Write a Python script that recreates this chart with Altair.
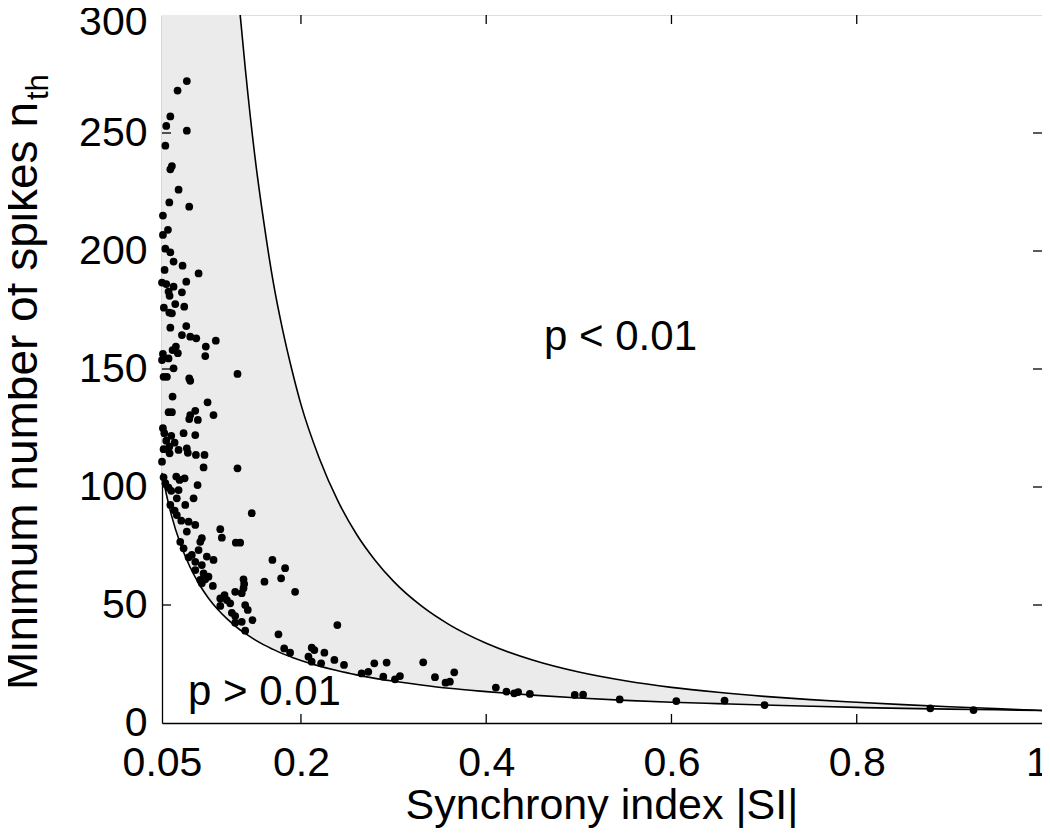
import altair as alt
import pandas as pd

# ---- data ----
SI_PTS = [0.0768, 0.0668, 0.059, 0.0546, 0.0768, 0.0536, 0.0607, 0.059, 0.0679, 0.0579,
          0.0794, 0.051, 0.0564, 0.051, 0.0536, 0.059, 0.0625, 0.0722, 0.0895, 0.0528,
          0.0762, 0.05, 0.0546, 0.0625, 0.0715, 0.0582, 0.0571, 0.0643, 0.074, 0.052,
          0.0579, 0.0607, 0.059, 0.0762, 0.0715, 0.0805, 0.087, 0.1081, 0.0973, 0.065,
          0.0614, 0.0671, 0.051, 0.0967, 0.05, 0.0571, 0.0625, 0.1315, 0.0517, 0.0553,
          0.0794, 0.0805, 0.0614, 0.0992, 0.0571, 0.0607, 0.0859, 0.1056, 0.0805, 0.0794,
          0.0887, 0.051, 0.0525, 0.0733, 0.06, 0.0859, 0.0546, 0.0636, 0.0517, 0.0579,
          0.0679, 0.0768, 0.0582, 0.0779, 0.0866, 0.0959, 0.05, 0.0949, 0.1315, 0.0517,
          0.0654, 0.0744, 0.0536, 0.069, 0.0571, 0.0884, 0.0679, 0.06, 0.0841, 0.066,
          0.0751, 0.059, 0.0636, 0.066, 0.1469, 0.0708, 0.0787, 0.0859, 0.1129, 0.0768,
          0.1146, 0.093, 0.0913, 0.0697, 0.1297, 0.1344, 0.0733, 0.0895, 0.0822, 0.0787,
          0.0984, 0.1056, 0.1692, 0.0859, 0.093, 0.1829, 0.0859, 0.0949, 0.1002, 0.1786,
          0.138, 0.0913, 0.0967, 0.1606, 0.1387, 0.093, 0.1049, 0.138, 0.1937, 0.1361,
          0.129, 0.1175, 0.1129, 0.12, 0.1236, 0.1398, 0.1129, 0.1426, 0.1254, 0.129,
          0.1477, 0.129, 0.1361, 0.2393, 0.1398, 0.1757, 0.1819, 0.1883, 0.2116, 0.2145,
          0.2081, 0.2253, 0.2361, 0.2116, 0.2218, 0.2465, 0.2792, 0.2925, 0.2655, 0.2727,
          0.2889, 0.3015, 0.3069, 0.332, 0.3447, 0.3561, 0.3608, 0.3655, 0.4104, 0.4219,
          0.4302, 0.4345, 0.4471, 0.4956, 0.5046, 0.5441, 0.6052, 0.6573, 0.7005, 0.8794,
          0.9261]
N_PTS = [272, 268, 257, 253, 251, 244.6, 236, 234.6, 226, 220.6,
         218.8, 215, 209, 206.8, 201, 199.4, 195.5, 193.8, 190.5, 192,
         187, 186.6, 186, 184.9, 182.5, 181, 182.8, 177.5, 176.4, 176,
         173.9, 173.6, 167.5, 168.2, 164.4, 163.7, 163, 162, 159.5, 159.5,
         158, 156.7, 156.4, 155.5, 153.8, 154.5, 150.3, 147.9, 146.7, 146.7,
         146, 145, 138.3, 135.9, 131.7, 131.7, 132.3, 130.5, 130.5, 128.8,
         128.4, 124.9, 122.8, 122.8, 121.7, 122, 119.6, 118.8, 116, 117.1,
         115.7, 116.4, 114.3, 114.5, 113.6, 113.6, 110.7, 108.3, 107.9, 104.1,
         104.4, 103.7, 101.6, 103, 99.7, 100.8, 98.7, 98.4, 95.2, 95.2,
         92.4, 92.4, 90, 88.1, 88.9, 85.7, 85.3, 83.9, 82.1, 81.1,
         78.5, 78.3, 76.8, 76.8, 76.4, 76.4, 74, 73.3, 71.2, 70.2,
         70.5, 69.1, 69.1, 68.3, 66.9, 65.6, 64.8, 63.4, 62, 61.3,
         60.9, 60.6, 60.9, 59.9, 58.9, 59.2, 58.1, 57.1, 55.6, 55,
         55.6, 54.2, 52.8, 52.1, 50.7, 50, 49.6, 47.9, 46.7, 45.3,
         43.6, 42.5, 42.9, 41.5, 39.1, 37.6, 31.6, 29.8, 31.9, 30.9,
         28.1, 29.8, 26.7, 26, 25.3, 24.6, 25.3, 25.6, 21, 21.7,
         19.6, 18.5, 19.9, 25.7, 19.4, 17.1, 17.5, 21.5, 15, 13.3,
         12.6, 13.1, 12.3, 11.9, 12, 10, 9.3, 9.5, 7.6, 6.2,
         5.5]

# threshold curves
SI_CURVE = [0.05, 0.055, 0.06, 0.07, 0.08, 0.09, 0.1, 0.11, 0.12, 0.1344, 0.14, 0.15,
            0.16, 0.17, 0.18, 0.19, 0.2, 0.22, 0.24, 0.26, 0.28, 0.3, 0.33, 0.36, 0.4,
            0.45, 0.5, 0.55, 0.6, 0.65, 0.7, 0.75, 0.8, 0.85, 0.9, 0.95, 1.0]
N_LOWER = [106, 96.4, 88.3, 75.7, 66.3, 58.9, 53, 48.2, 44.2, 39.4, 37.9, 35.3,
           33.1, 31.2, 29.4, 27.9, 26.5, 24.1, 22.1, 20.4, 18.9, 17.7, 16.1, 14.7, 13.3,
           11.8, 10.6, 9.6, 8.8, 8.2, 7.6, 7.1, 6.6, 6.2, 5.9, 5.6, 5.3]
N_UPPER = [300, 300, 300, 300, 300, 300, 300, 300, 300, 300, 277, 241,
           212, 187, 167, 150, 135, 112, 94, 80, 69, 60, 49.6, 41.7, 33.8,
           26.7, 21.6, 17.9, 15.1, 13.0, 11.3, 9.9, 8.8, 7.8, 6.9, 6.1, 5.3]

X_TICKS = [0.05, 0.2, 0.4, 0.6, 0.8, 1.0]
Y_TICKS = [0, 50, 100, 150, 200, 250, 300]

W, H = 880, 708
FONT = "Liberation Sans"
FS = 41
TICK = 9

pts = pd.DataFrame({"si": SI_PTS, "n": N_PTS})
curves = pd.DataFrame({"si": SI_CURVE, "lo": N_LOWER, "up": N_UPPER})
upper_line = curves[curves["si"] >= 0.1344]

xs = alt.Scale(domain=[0.05, 1], nice=False, zero=False)
ys = alt.Scale(domain=[0, 300], nice=False, zero=True)

x_axis = alt.Axis(values=X_TICKS, format="~g", title=None, grid=False, ticks=False,
                  tickSize=0, labelFont=FONT, labelFontSize=FS, labelColor="black",
                  labelPadding=20, domainColor="black", domainWidth=1.3,
                  labelFlush=False, labelOverlap=False,
                  labelOffset={"condition": {"test": "datum.value == 1", "value": -5},
                               "value": 0})
y_axis = alt.Axis(values=Y_TICKS, title=None, grid=False, ticks=False, tickSize=0,
                  labelFont=FONT, labelFontSize=FS, labelColor="black",
                  labelPadding=15, domainColor="black", domainWidth=1.3,
                  labelFlush=False, labelOverlap=False,
                  labelOffset={"condition": {"test": "datum.value == 300", "value": 7},
                               "value": 0})


def X(field):
    return alt.X(field, type="quantitative", scale=xs, axis=x_axis)


def Y(field):
    return alt.Y(field, type="quantitative", scale=ys, axis=y_axis)


band = alt.Chart(curves).mark_area(color="#ebebeb", interpolate="monotone").encode(
    x=X("si"), y=Y("up"), y2="lo")
lower = alt.Chart(curves).mark_line(color="black", strokeWidth=1.6, interpolate="monotone").encode(
    x=X("si"), y=Y("lo"))
upper = alt.Chart(upper_line).mark_line(color="black", strokeWidth=1.6, interpolate="monotone").encode(
    x=X("si"), y=Y("up"))
dots = alt.Chart(pts).mark_circle(color="black", opacity=1, size=60).encode(
    x=X("si"), y=Y("n"))

xt = pd.DataFrame({"v": X_TICKS[1:-1]})
yt = pd.DataFrame({"v": Y_TICKS[1:-1]})
tick_style = dict(color="black", strokeWidth=1.3)
xb = alt.Chart(xt).mark_rule(**tick_style).encode(x=X("v"), y=alt.value(H), y2=alt.value(H - TICK))
xtp = alt.Chart(xt).mark_rule(**tick_style).encode(x=X("v"), y=alt.value(0), y2=alt.value(TICK))
yl = alt.Chart(yt).mark_rule(**tick_style).encode(y=Y("v"), x=alt.value(0), x2=alt.value(TICK))
yr = alt.Chart(yt).mark_rule(**tick_style).encode(y=Y("v"), x=alt.value(W), x2=alt.value(W - TICK))

ann = pd.DataFrame({"si": [0.545, 0.1606], "n": [158, 7.6], "t": ["p < 0.01", "p > 0.01"]})
ann_text = alt.Chart(ann).mark_text(font=FONT, fontSize=42, color="black",
                                    align="center", baseline="alphabetic").encode(
    x=X("si"), y=Y("n"), text="t:N")

one = alt.Data(values=[{}])
xtitle = alt.Chart(one).mark_text(text="Synchrony index |SI|", font=FONT, fontSize=43,
                                  color="black", align="center", baseline="alphabetic").encode(
    x=alt.value(W / 2), y=alt.value(804))
ytitle = alt.Chart(one).mark_text(text="Minimum number of spikes n", font=FONT, fontSize=46,
                                  color="black", align="left", baseline="alphabetic",
                                  angle=270).encode(
    x=alt.value(-125), y=alt.value(675))
ysub = alt.Chart(one).mark_text(text="th", font=FONT, fontSize=31,
                                color="black", align="left", baseline="alphabetic",
                                angle=270).encode(
    x=alt.value(-114), y=alt.value(85))

chart = alt.layer(band, lower, upper, dots, xb, xtp, yl, yr, ann_text,
                  xtitle, ytitle, ysub).properties(
    width=W, height=H,
    autosize=alt.AutoSizeParams(type="none"),
    padding={"left": 154, "top": 7, "right": 0, "bottom": 105},
).configure_view(stroke="black", strokeWidth=1.3).configure(background="white")

chart.save("out.html", embed_options={"renderer": "svg", "actions": False})
